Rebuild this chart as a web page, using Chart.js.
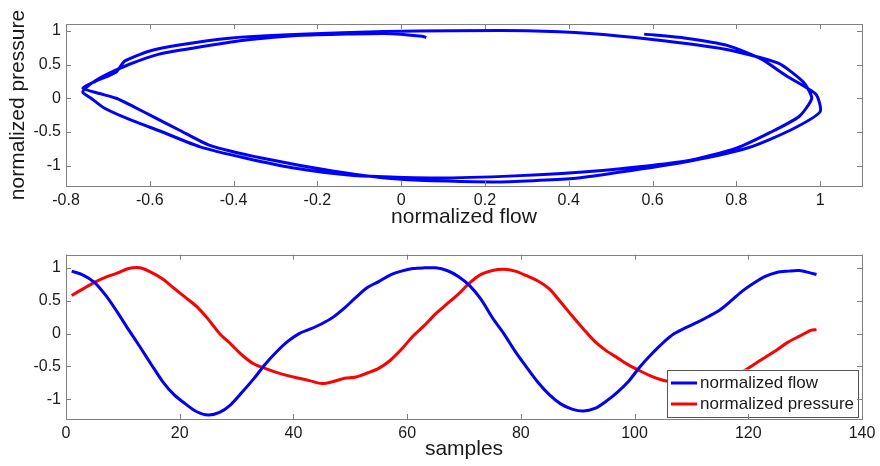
<!DOCTYPE html>
<html>
<head>
  <title>normalized flow and pressure</title>
  <meta charset="utf-8" />
  <script src="https://cdn.jsdelivr.net/npm/chart.js@4/dist/chart.umd.min.js"></script>
  <style>
    html, body {
      margin: 0;
      padding: 0;
      background: #ffffff;
    }
    canvas {
      position: absolute;
      left: 0;
    }
    #topChart { top: 0; }
    #bottomChart { top: 240px; }
  </style>
</head>
<body>
  <canvas id="topChart" width="880" height="240"></canvas>
  <canvas id="bottomChart" width="880" height="226"></canvas>
  <script>
    // values
    var samples = [1, 3, 5, 7, 9, 11, 13, 15, 17, 19, 21, 23, 25, 27, 29, 31, 33, 35, 37, 39,
      41, 43, 45, 47, 49, 51, 53, 55, 57, 59, 61, 63, 65, 67, 69, 71, 73, 75, 77, 79,
      81, 83, 85, 87, 89, 91, 93, 95, 97, 99, 101, 103, 105, 107, 109, 111, 113, 115, 117, 119,
      121, 123, 125, 127, 129, 131, 132];

    var flow = [0.95, 0.89, 0.78, 0.58, 0.33, 0.06, -0.20, -0.47, -0.73, -0.93,
      -1.07, -1.19, -1.24, -1.20, -1.08, -0.89, -0.69, -0.47, -0.28, -0.12,
      0.00, 0.07, 0.15, 0.25, 0.39, 0.55, 0.70, 0.79, 0.89, 0.95,
      0.99, 1.00, 1.00, 0.96, 0.87, 0.73, 0.52, 0.24, 0.00, -0.27,
      -0.51, -0.74, -0.93, -1.07, -1.15, -1.18, -1.14, -1.03, -0.89, -0.72,
      -0.50, -0.31, -0.14, 0.00, 0.09, 0.17, 0.26, 0.36, 0.50, 0.65,
      0.77, 0.87, 0.93, 0.95, 0.96, 0.92, 0.90];

    var pressure = [0.58, 0.68, 0.78, 0.86, 0.92, 0.99, 1.00, 0.93, 0.83, 0.69,
      0.55, 0.41, 0.22, 0.00, -0.16, -0.33, -0.46, -0.53, -0.59, -0.64,
      -0.68, -0.72, -0.76, -0.73, -0.68, -0.66, -0.60, -0.53, -0.41, -0.24,
      -0.04, 0.12, 0.30, 0.45, 0.60, 0.77, 0.90, 0.96, 0.98, 0.95,
      0.88, 0.80, 0.68, 0.48, 0.27, 0.07, -0.12, -0.26, -0.37, -0.48,
      -0.57, -0.65, -0.71, -0.74, -0.76, -0.75, -0.73, -0.70, -0.65, -0.58,
      -0.47, -0.36, -0.25, -0.13, -0.04, 0.05, 0.06];

    var flowTicks = [-0.8, -0.6, -0.4, -0.2, 0, 0.2, 0.4, 0.6, 0.8, 1];
    var sampleTicks = [0, 20, 40, 60, 80, 100, 120, 140];
    var valueTicks = [-1, -0.5, 0, 0.5, 1];

    var axisGray = '#808080';
    var textColor = '#1a1a1a';
    var fontFamily = "'Liberation Sans', Arial, sans-serif";

    function fmt(v) {
      return String(Math.round(v * 10) / 10);
    }

    // matlab style box with inward ticks on all four sides
    var boxTicks = {
      id: 'boxTicks',
      afterDraw: function(chart) {
        var ctx = chart.ctx, a = chart.chartArea;
        var x = chart.scales.x, y = chart.scales.y;
        ctx.save();
        ctx.strokeStyle = axisGray;
        ctx.lineWidth = 1;
        ctx.beginPath();
        x.ticks.forEach(function(t) {
          var px = Math.round(x.getPixelForValue(t.value)) + 0.5;
          ctx.moveTo(px, a.bottom); ctx.lineTo(px, a.bottom - 5);
          ctx.moveTo(px, a.top); ctx.lineTo(px, a.top + 5);
        });
        y.ticks.forEach(function(t) {
          var py = Math.round(y.getPixelForValue(t.value)) + 0.5;
          ctx.moveTo(a.left, py); ctx.lineTo(a.left + 5, py);
          ctx.moveTo(a.right, py); ctx.lineTo(a.right - 5, py);
        });
        ctx.stroke();
        ctx.strokeRect(Math.round(a.left) + 0.5, Math.round(a.top) + 0.5,
          Math.round(a.right - a.left), Math.round(a.bottom - a.top));
        ctx.restore();
      }
    };

    // legend box inside the lower right corner
    var insideLegend = {
      id: 'insideLegend',
      afterDatasetsDraw: function(chart) {
        var ctx = chart.ctx, a = chart.chartArea;
        var w = 191, h = 47;
        var left = a.right - 4 - w, top = a.bottom - 2.5 - h;
        ctx.save();
        ctx.fillStyle = '#ffffff';
        ctx.fillRect(left, top, w, h);
        ctx.strokeStyle = '#555555';
        ctx.lineWidth = 1;
        ctx.strokeRect(Math.round(left) + 0.5, Math.round(top) + 0.5, w, h);
        ctx.font = '17px ' + fontFamily;
        ctx.textBaseline = 'middle';
        ctx.fillStyle = textColor;
        chart.data.datasets.forEach(function(ds, i) {
          var yy = top + 13.5 + i * 21;
          ctx.strokeStyle = ds.borderColor;
          ctx.lineWidth = 3;
          ctx.beginPath();
          ctx.moveTo(left + 4, yy);
          ctx.lineTo(left + 30, yy);
          ctx.stroke();
          ctx.fillText(ds.label, left + 33, yy);
        });
        ctx.restore();
      }
    };

    function xAxis(min, max, values, title, height, titlePad) {
      return {
        type: 'linear',
        min: min, max: max,
        grid: { display: false, drawTicks: false },
        border: { display: false },
        afterBuildTicks: function(s) {
          s.ticks = values.map(function(v) { return { value: v }; });
        },
        ticks: {
          padding: 5,
          color: textColor, font: { family: fontFamily, size: 16 },
          maxRotation: 0, autoSkip: false, callback: fmt
        },
        title: {
          display: true, text: title, color: textColor,
          font: { family: fontFamily, size: 21 },
          padding: { top: 0, bottom: titlePad }
        },
        afterFit: function(s) {
          s.height = height;
          s.paddingLeft = 0; s.paddingRight = 0;
        }
      };
    }

    function yAxis(min, max, values, title) {
      return {
        type: 'linear',
        min: min, max: max,
        grid: { display: false, drawTicks: false },
        border: { display: false },
        afterBuildTicks: function(s) {
          s.ticks = values.map(function(v) { return { value: v }; });
        },
        ticks: {
          padding: 5,
          color: textColor, font: { family: fontFamily, size: 16 },
          autoSkip: false, callback: fmt
        },
        title: {
          display: !!title, text: title, color: textColor,
          font: { family: fontFamily, size: 21 },
          padding: { top: 6, bottom: 0 }
        },
        afterFit: function(s) {
          s.width = 66;
          s.paddingTop = 0; s.paddingBottom = 0;
        }
      };
    }

    var common = {
      responsive: false,
      animation: false,
      plugins: { legend: { display: false }, tooltip: { enabled: false } },
      elements: { point: { radius: 0 } }
    };

    new Chart(document.getElementById('topChart'), {
      type: 'scatter',
      data: {
        datasets: [{
          label: 'loop',
          data: flow.map(function(f, i) { return { x: pressure[i], y: f }; }),
          showLine: true,
          borderColor: '#0000ff',
          borderWidth: 3,
          tension: 0.2,
          pointRadius: 0
        }]
      },
      options: Object.assign({}, common, {
        layout: { padding: { left: 0, right: 18, top: 24, bottom: 0 } },
        scales: {
          x: xAxis(-0.8, 1.1, flowTicks, 'normalized flow', 54, 10),
          y: yAxis(-1.3, 1.1, valueTicks, 'normalized pressure')
        }
      }),
      plugins: [boxTicks]
    });

    new Chart(document.getElementById('bottomChart'), {
      type: 'line',
      data: {
        datasets: [{
          label: 'normalized flow',
          data: samples.map(function(s, i) { return { x: s, y: flow[i] }; }),
          borderColor: '#0000ff',
          borderWidth: 3,
          tension: 0.3,
          fill: false
        }, {
          label: 'normalized pressure',
          data: samples.map(function(s, i) { return { x: s, y: pressure[i] }; }),
          borderColor: '#ff0000',
          borderWidth: 3,
          tension: 0.3,
          fill: false
        }]
      },
      options: Object.assign({}, common, {
        layout: { padding: { left: 0, right: 18, top: 14.7, bottom: 0 } },
        scales: {
          x: xAxis(0, 140, sampleTicks, 'samples', 47, 4),
          y: yAxis(-1.3, 1.2, valueTicks, '')
        }
      }),
      plugins: [boxTicks, insideLegend]
    });
  </script>
</body>
</html>
